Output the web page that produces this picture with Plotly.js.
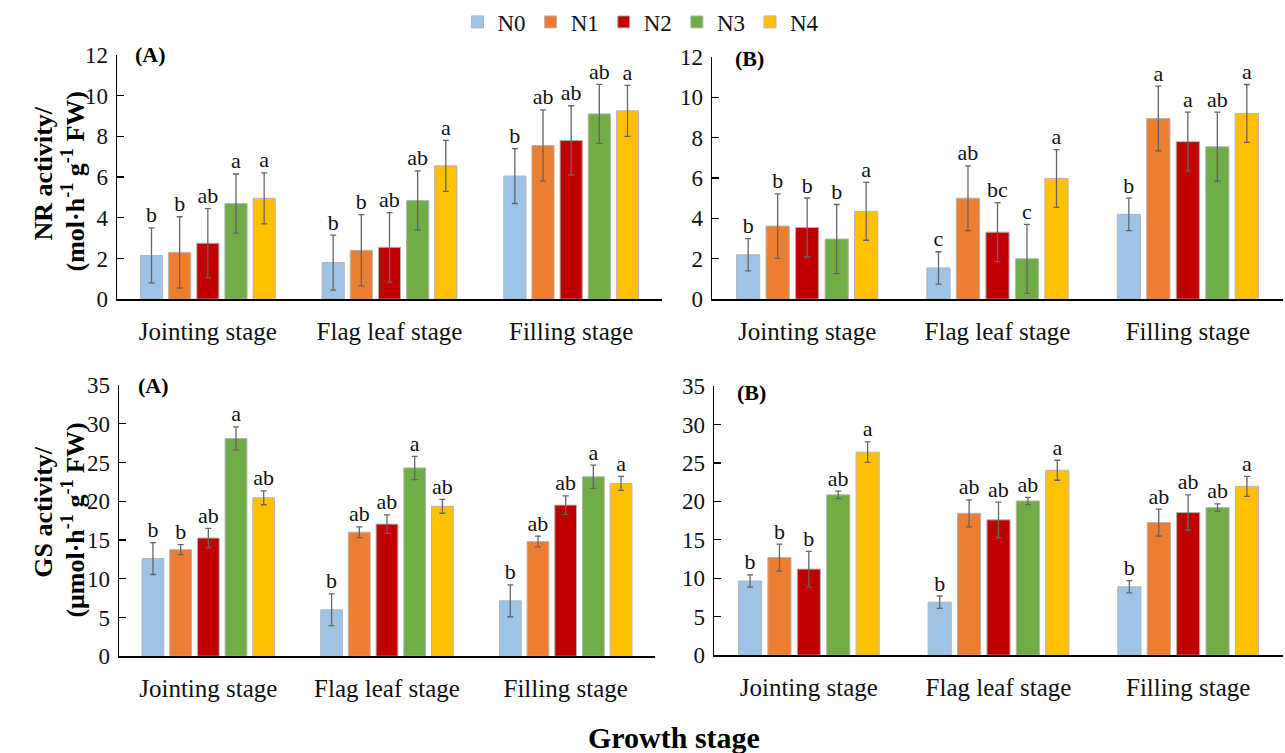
<!DOCTYPE html>
<html>
<head>
<meta charset="utf-8">
<script src="https://cdn.plot.ly/plotly-3.0.1.min.js"></script>
<style>html,body{margin:0;padding:0;background:#fff}#chart{width:1285px;height:753px}</style>
</head>
<body>
<div id="chart"></div>
<script>
// ---------- data ----------
const categories = ['Jointing stage', 'Flag leaf stage', 'Filling stage'];
const seriesNames = ['N0', 'N1', 'N2', 'N3', 'N4'];
const seriesColors = ['#9DC3E6', '#ED7D31', '#C00000', '#70AD47', '#FFC000'];

// NR activity, panel (A): rows = N0..N4, cols = stages
const nrA_mean = [[2.15, 1.8, 6.05], [2.3, 2.4, 7.55], [2.75, 2.55, 7.8], [4.7, 4.85, 9.1], [4.95, 6.55, 9.25]];
const nrA_err  = [[1.35, 1.35, 1.35], [1.75, 1.75, 1.75], [1.7, 1.7, 1.7], [1.45, 1.45, 1.45], [1.25, 1.25, 1.25]];
const nrA_sig  = [['b', 'b', 'b'], ['b', 'b', 'ab'], ['ab', 'ab', 'ab'], ['a', 'ab', 'ab'], ['a', 'a', 'a']];

// NR activity, panel (B)
const nrB_mean = [[2.2, 1.55, 4.2], [3.62, 5.0, 8.95], [3.55, 3.32, 7.8], [2.98, 2.0, 7.55], [4.35, 5.98, 9.2]];
const nrB_err  = [[0.8, 0.8, 0.8], [1.6, 1.6, 1.6], [1.46, 1.46, 1.46], [1.71, 1.71, 1.71], [1.43, 1.43, 1.43]];
const nrB_sig  = [['b', 'c', 'b'], ['b', 'ab', 'a'], ['b', 'bc', 'a'], ['b', 'c', 'ab'], ['a', 'a', 'a']];

// GS activity, panel (A)
const gsA_mean = [[12.6, 6.0, 7.15], [13.75, 16.0, 14.8], [15.25, 17.05, 19.5], [28.1, 24.3, 23.15], [20.45, 19.35, 22.3]];
const gsA_err  = [[2.05, 2.05, 2.05], [0.65, 0.7, 0.7], [1.25, 1.2, 1.2], [1.5, 1.5, 1.5], [0.9, 0.9, 0.9]];
const gsA_sig  = [['b', 'b', 'b'], ['b', 'ab', 'ab'], ['ab', 'ab', 'ab'], ['a', 'a', 'a'], ['ab', 'ab', 'a']];

// GS activity, panel (B)
const gsB_mean = [[9.65, 6.9, 8.9], [12.7, 18.45, 17.25], [11.2, 17.6, 18.55], [20.85, 20.05, 19.2], [26.4, 24.05, 21.95]];
const gsB_err  = [[0.8, 0.8, 0.8], [1.75, 1.75, 1.75], [2.3, 2.3, 2.3], [0.48, 0.48, 0.48], [1.33, 1.3, 1.3]];
const gsB_sig  = [['b', 'b', 'b'], ['b', 'ab', 'ab'], ['b', 'ab', 'ab'], ['ab', 'ab', 'ab'], ['a', 'a', 'a']];

const panelLabels = ['(A)', '(B)', '(A)', '(B)'];
const yTitleLine1 = ['NR activity/', 'GS activity/'];
const yTitleLine2 = ['(mol·h<sup>-1</sup> g<sup>-1</sup> FW)', '(μmol·h<sup>-1</sup> g<sup>-1</sup> FW)'];
const xTitle = 'Growth stage';

// ---------- build ----------
const FONT = "'Liberation Serif', 'Times New Roman', Times, serif";
const PITCH = 0.155, BARW = 0.122;
const panels = [
  {mean: nrA_mean, err: nrA_err, sig: nrA_sig, xa: 'x', ya: 'y'},
  {mean: nrB_mean, err: nrB_err, sig: nrB_sig, xa: 'x2', ya: 'y2'},
  {mean: gsA_mean, err: gsA_err, sig: gsA_sig, xa: 'x3', ya: 'y3'},
  {mean: gsB_mean, err: gsB_err, sig: gsB_sig, xa: 'x4', ya: 'y4'}
];

const traces = [];
panels.forEach((p, pi) => {
  seriesNames.forEach((name, si) => {
    const xs = categories.map((c, gi) => gi + (si - 2) * PITCH);
    traces.push({
      type: 'bar', name: name, x: xs, y: p.mean[si], width: BARW,
      xaxis: p.xa, yaxis: p.ya, legendgroup: name, showlegend: pi === 0,
      marker: {color: seriesColors[si], line: {color: '#B4B4B4', width: 1}},
      error_y: {type: 'data', array: p.err[si], visible: true, color: '#666666', thickness: 1.3, width: 3},
      hoverinfo: 'skip'
    });
  });
  seriesNames.forEach((name, si) => {
    const xs = categories.map((c, gi) => gi + (si - 2) * PITCH);
    traces.push({
      type: 'scatter', mode: 'text', x: xs,
      y: p.mean[si].map((v, k) => v + p.err[si][k]),
      text: p.sig[si], textposition: 'top center',
      textfont: {family: FONT, size: 22, color: '#111'},
      xaxis: p.xa, yaxis: p.ya, showlegend: false, hoverinfo: 'skip', cliponaxis: false
    });
  });
});

const W = 1285, H = 753;
function xd(a, b) { return [a / W, b / W]; }
function yd(bottom, top) { return [1 - bottom / H, 1 - top / H]; }

function xaxis(dom) {
  return {domain: dom, range: [-0.5, 2.5], tickvals: [0, 1, 2], ticktext: categories,
    showline: true, linecolor: '#000', linewidth: 1.5, ticks: '', showgrid: false, zeroline: false,
    tickfont: {family: FONT, size: 25, color: '#111'}, ticklabelstandoff: 9, fixedrange: true};
}
function yaxis(dom, max, dt) {
  return {domain: dom, range: [0, max], dtick: dt, tick0: 0,
    showline: true, linecolor: '#000', linewidth: 1.5, ticks: 'inside', ticklen: 7, tickcolor: '#000', tickwidth: 1.2,
    showgrid: false, zeroline: false, tickfont: {family: FONT, size: 23, color: '#111'}, ticklabelstandoff: 3, fixedrange: true};
}

const annotations = [];
const labelPos = [[133, 53], [733, 57], [136, 385], [735, 392]];
panelLabels.forEach((t, i) => annotations.push({
  text: '<b>' + t + '</b>', xref: 'paper', yref: 'paper', x: labelPos[i][0] / W, y: 1 - labelPos[i][1] / H,
  xanchor: 'left', yanchor: 'middle', showarrow: false, font: {family: FONT, size: 22, color: '#000'}
}));
const yTitleY = [172, 512];
[0, 1].forEach(r => {
  annotations.push({text: '<b>' + yTitleLine1[r] + '</b>', xref: 'paper', yref: 'paper', x: 44 / W, y: 1 - yTitleY[r] / H,
    xanchor: 'center', yanchor: 'middle', textangle: -90, showarrow: false, font: {family: FONT, size: 26, color: '#000'}});
  annotations.push({text: '<b>' + yTitleLine2[r] + '</b>', xref: 'paper', yref: 'paper', x: 74 / W, y: 1 - (yTitleY[r] + 8) / H,
    xanchor: 'center', yanchor: 'middle', textangle: -90, showarrow: false, font: {family: FONT, size: 26, color: '#000'}});
});
annotations.push({text: '<b>' + xTitle + '</b>', xref: 'paper', yref: 'paper', x: 674 / W, y: 1 - 737 / H,
  xanchor: 'center', yanchor: 'middle', showarrow: false, font: {family: FONT, size: 30, color: '#000'}});

const layout = {
  width: W, height: H, margin: {l: 0, r: 0, t: 0, b: 0},
  paper_bgcolor: '#fff', plot_bgcolor: '#fff', barmode: 'overlay',
  font: {family: FONT, color: '#111'},
  showlegend: true,
  legend: {orientation: 'h', x: 641 / W, xanchor: 'center', y: 1 - 20 / H, yanchor: 'middle',
    font: {family: FONT, size: 23, color: '#111'}, traceorder: 'normal', itemclick: false, itemdoubleclick: false},
  xaxis: xaxis(xd(117, 662)), yaxis: Object.assign(yaxis(yd(298, 53), 12, 2), {anchor: 'x'}),
  xaxis2: Object.assign(xaxis(xd(712, 1283)), {anchor: 'y2'}), yaxis2: Object.assign(yaxis(yd(298, 55), 12, 2), {anchor: 'x2'}),
  xaxis3: Object.assign(xaxis(xd(119, 655)), {anchor: 'y3'}), yaxis3: Object.assign(yaxis(yd(656, 384), 35, 5), {anchor: 'x3'}),
  xaxis4: Object.assign(xaxis(xd(714, 1283)), {anchor: 'y4'}), yaxis4: Object.assign(yaxis(yd(655, 385), 35, 5), {anchor: 'x4'}),
  annotations: annotations
};
layout.xaxis.anchor = 'y';

Plotly.newPlot('chart', traces, layout, {staticPlot: true, displayModeBar: false});
</script>
</body>
</html>
